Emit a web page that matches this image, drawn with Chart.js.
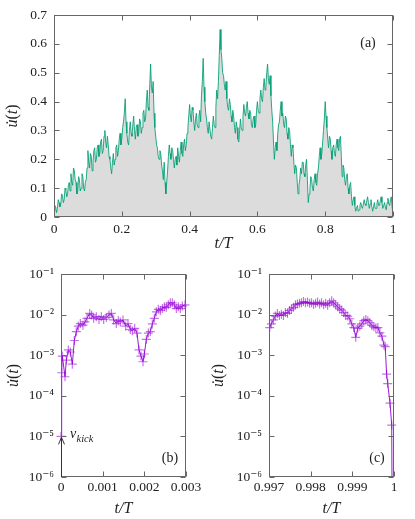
<!DOCTYPE html>
<html lang="en">
<head>
<meta charset="UTF-8">
<title>u(t)</title>
<script src="https://cdn.jsdelivr.net/npm/chart.js"></script>
<style>
  body { margin: 0; background: #fff; }
  canvas { position: absolute; }
</style>
</head>
<body>
<canvas id="chartA" width="415" height="258" style="left:0;top:0"></canvas>
<canvas id="chartB" width="207" height="263" style="left:0;top:256px"></canvas>
<canvas id="chartC" width="208" height="263" style="left:207px;top:256px"></canvas>
<script>
// (a) whole run, sampled every 0.0025 T
const uA = [
  0.02, 0.04, 0.035, 0.015, 0.03, 0.06, 0.05, 0.035, 0.045, 0.08, 0.075, 0.05, 0.06, 0.10, 0.095, 0.07, 0.08, 0.11, 0.12, 0.09,
  0.15, 0.12, 0.11, 0.17, 0.16, 0.13, 0.12, 0.08, 0.09, 0.14, 0.13, 0.09, 0.10, 0.15, 0.14, 0.10, 0.09, 0.12, 0.13, 0.17,
  0.23, 0.19, 0.17, 0.22, 0.21, 0.16, 0.19, 0.23, 0.24, 0.19, 0.20, 0.24, 0.25, 0.21, 0.22, 0.26, 0.27, 0.22, 0.23, 0.28,
  0.30, 0.26, 0.24, 0.28, 0.25, 0.21, 0.20, 0.17, 0.15, 0.19, 0.22, 0.18, 0.20, 0.24, 0.25, 0.21, 0.23, 0.27, 0.29, 0.25,
  0.27, 0.31, 0.33, 0.36, 0.41, 0.33, 0.29, 0.26, 0.25, 0.30, 0.33, 0.29, 0.28, 0.32, 0.35, 0.30, 0.27, 0.31, 0.32, 0.28,
  0.29, 0.34, 0.33, 0.29, 0.31, 0.36, 0.37, 0.33, 0.34, 0.40, 0.44, 0.38, 0.37, 0.46, 0.53, 0.45, 0.43, 0.47, 0.36, 0.31,
  0.28, 0.25, 0.24, 0.21, 0.20, 0.23, 0.22, 0.18, 0.16, 0.13, 0.19, 0.12, 0.08, 0.12, 0.16, 0.21, 0.25, 0.22, 0.20, 0.24,
  0.23, 0.20, 0.17, 0.20, 0.21, 0.18, 0.24, 0.21, 0.19, 0.23, 0.26, 0.22, 0.21, 0.25, 0.27, 0.23, 0.25, 0.29, 0.31, 0.35,
  0.39, 0.35, 0.33, 0.38, 0.37, 0.33, 0.30, 0.34, 0.36, 0.32, 0.31, 0.35, 0.37, 0.33, 0.42, 0.47, 0.55, 0.45, 0.40, 0.36,
  0.34, 0.31, 0.29, 0.33, 0.33, 0.28, 0.27, 0.31, 0.35, 0.32, 0.31, 0.38, 0.44, 0.41, 0.47, 0.56, 0.65, 0.58, 0.55, 0.50,
  0.49, 0.46, 0.44, 0.47, 0.41, 0.38, 0.37, 0.41, 0.39, 0.35, 0.33, 0.37, 0.35, 0.31, 0.29, 0.33, 0.31, 0.27, 0.26, 0.30,
  0.34, 0.31, 0.30, 0.35, 0.39, 0.36, 0.35, 0.38, 0.40, 0.36, 0.34, 0.37, 0.36, 0.32, 0.31, 0.34, 0.35, 0.31, 0.32, 0.37,
  0.40, 0.37, 0.36, 0.41, 0.44, 0.41, 0.40, 0.45, 0.48, 0.44, 0.45, 0.50, 0.53, 0.48, 0.46, 0.49, 0.42, 0.37, 0.33, 0.26,
  0.20, 0.24, 0.26, 0.23, 0.29, 0.32, 0.33, 0.37, 0.40, 0.35, 0.36, 0.32, 0.31, 0.35, 0.34, 0.29, 0.27, 0.31, 0.30, 0.25,
  0.21, 0.25, 0.24, 0.19, 0.15, 0.18, 0.17, 0.12, 0.08, 0.11, 0.13, 0.17, 0.15, 0.19, 0.19, 0.15, 0.14, 0.18, 0.20, 0.13,
  0.05, 0.08, 0.10, 0.14, 0.13, 0.10, 0.09, 0.13, 0.15, 0.12, 0.11, 0.15, 0.17, 0.21, 0.24, 0.20, 0.22, 0.26, 0.30, 0.34,
  0.40, 0.35, 0.31, 0.27, 0.24, 0.28, 0.27, 0.23, 0.20, 0.24, 0.25, 0.22, 0.21, 0.25, 0.27, 0.24, 0.23, 0.27, 0.28, 0.21,
  0.14, 0.18, 0.17, 0.13, 0.11, 0.14, 0.15, 0.10, 0.08, 0.11, 0.12, 0.07, 0.04, 0.06, 0.07, 0.04, 0.02, 0.03, 0.04, 0.02,
  0.025, 0.04, 0.05, 0.035, 0.03, 0.045, 0.06, 0.045, 0.04, 0.055, 0.07, 0.05, 0.03, 0.045, 0.06, 0.035, 0.02, 0.035, 0.05, 0.03,
  0.03, 0.045, 0.06, 0.04, 0.04, 0.055, 0.07, 0.05, 0.03, 0.04, 0.05, 0.035, 0.025, 0.05, 0.065, 0.045, 0.04, 0.06, 0.07, 0.035,
  0.01
];
const stepA = 0.0025;
const tA = uA.map((_, i) => i * stepA);

// (b) start of the run
const tB = [0, 0.000016, 0.000032, 0.000096, 0.000128, 0.000176, 0.000224, 0.000272, 0.00032, 0.000368,
  0.000416, 0.000464, 0.000528, 0.000576, 0.000624, 0.000688, 0.000736, 0.000784, 0.000848, 0.000912,
  0.000968, 0.001024, 0.001088, 0.001152, 0.001208, 0.001264, 0.001328, 0.001376, 0.001424, 0.001488,
  0.001552, 0.001608, 0.001664, 0.001712, 0.001768, 0.001824, 0.001872, 0.00192, 0.001968, 0.002,
  0.002048, 0.002096, 0.002144, 0.002192, 0.00224, 0.002288, 0.002336, 0.002384, 0.002432, 0.00248,
  0.002528, 0.002576, 0.002624, 0.002672, 0.00272, 0.002768, 0.002816, 0.002864, 0.002912, 0.002976];
const uB = [1e-5, 3.7e-4, 9.5e-4, 2.95e-4, 7.6e-4, 1.35e-3, 1.2e-3, 6.0e-4, 2.3e-3, 3.8e-3,
  5.2e-3, 6.0e-3, 5.5e-3, 6.6e-3, 8.1e-3, 1.07e-2, 9.8e-3, 8.1e-3, 8.9e-3, 7.6e-3,
  8.9e-3, 7.6e-3, 8.5e-3, 9.8e-3, 1.07e-2, 7.4e-3, 6.0e-3, 7.1e-3, 6.6e-3, 7.4e-3,
  5.2e-3, 6.0e-3, 4.3e-3, 4.0e-3, 4.6e-3, 3.5e-3, 1.35e-3, 9.5e-4, 6.9e-4, 1.07e-3,
  2.45e-3, 3.5e-3, 3.8e-3, 5.9e-3, 8.1e-3, 1.17e-2, 1.35e-2, 1.26e-2, 1.41e-2, 1.55e-2,
  1.51e-2, 1.74e-2, 1.95e-2, 1.95e-2, 1.74e-2, 1.41e-2, 1.55e-2, 1.41e-2, 1.62e-2, 1.74e-2];

// (c) end of the run
const tC = [0.997016, 0.997056, 0.997105, 0.997153, 0.997201, 0.997249, 0.997297, 0.997346, 0.997394, 0.997442,
  0.99749, 0.997539, 0.997587, 0.997635, 0.997683, 0.997732, 0.99778, 0.997828, 0.997876, 0.997925,
  0.997973, 0.998021, 0.998069, 0.998118, 0.998166, 0.998214, 0.998262, 0.998311, 0.998359, 0.998407,
  0.998455, 0.998504, 0.998552, 0.9986, 0.998648, 0.998697, 0.998745, 0.998793, 0.998841, 0.99889,
  0.998938, 0.998986, 0.999034, 0.999082, 0.999131, 0.999179, 0.999227, 0.999275, 0.999324, 0.999372,
  0.99942, 0.999468, 0.999517, 0.999565, 0.999613, 0.999661, 0.99971, 0.999758, 0.99979, 0.999822,
  0.999849, 0.999904, 0.999945, 0.99996];
const uC = [4.8e-3, 5.9e-3, 7.4e-3, 9.2e-3, 1.07e-2, 9.5e-3, 1.02e-2, 9.5e-3, 1.12e-2, 1.07e-2,
  1.26e-2, 1.38e-2, 1.51e-2, 1.74e-2, 1.82e-2, 1.9e-2, 1.95e-2, 2.09e-2, 1.95e-2, 2.04e-2,
  1.9e-2, 1.95e-2, 1.78e-2, 1.9e-2, 2.04e-2, 1.82e-2, 1.95e-2, 1.74e-2, 1.9e-2, 1.7e-2,
  1.95e-2, 2.19e-2, 1.95e-2, 1.74e-2, 1.55e-2, 1.38e-2, 1.29e-2, 1.12e-2, 9.5e-3, 9.2e-3,
  7.9e-3, 5.9e-3, 4.8e-3, 2.75e-3, 4.6e-3, 5.2e-3, 5.9e-3, 7.1e-3, 7.6e-3, 7.1e-3,
  6.3e-3, 5.4e-3, 5.0e-3, 4.7e-3, 4.8e-3, 3.55e-3, 2.95e-3, 1.78e-3, 1.62e-3, 3.4e-4,
  2.0e-4, 6.6e-5, 1.9e-5, 1e-8];

// ticks
const xTicksA = [0, 0.2, 0.4, 0.6, 0.8, 1];
const xLabelsA = ['0', '0.2', '0.4', '0.6', '0.8', '1'];
const yTicksA = [0, 0.1, 0.2, 0.3, 0.4, 0.5, 0.6, 0.7];
const yLabelsA = ['0', '0.1', '0.2', '0.3', '0.4', '0.5', '0.6', '0.7'];
const xTicksB = [0, 0.001, 0.002, 0.003];
const xLabelsB = ['0', '0.001', '0.002', '0.003'];
const xTicksC = [0.997, 0.998, 0.999, 1];
const xLabelsC = ['0.997', '0.998', '0.999', '1'];
const yTicksLog = [1e-6, 1e-5, 1e-4, 1e-3, 1e-2, 1e-1];
const yLabelsLog = ['10⁻⁶', '10⁻⁵', '10⁻⁴', '10⁻³', '10⁻²', '10⁻¹'];

const serif = "'Liberation Serif', 'DejaVu Serif', serif";
Chart.defaults.font.family = serif;
Chart.defaults.font.size = 13.5;
Chart.defaults.color = '#222';

const frameColor = '#666';
const green = 'rgba(0,158,115,0.85)';
const purple = 'rgba(148,0,211,0.9)';
const purpleLight = 'rgba(148,0,211,0.55)';

// u-dot(t), rotated, drawn piece by piece so the dot sits on the u
function yTitle(ctx, cx, cy) {
  const it = 'italic 16px ' + serif, rm = '16px ' + serif;
  const parts = [['u', it], ['(', rm], ['t', it], [')', rm]];
  ctx.save();
  ctx.translate(cx, cy);
  ctx.rotate(-Math.PI / 2);
  ctx.fillStyle = '#222';
  ctx.textBaseline = 'middle';
  let w = 0;
  parts.forEach(p => { ctx.font = p[1]; w += ctx.measureText(p[0]).width; });
  let x = -w / 2;
  parts.forEach(p => {
    ctx.font = p[1];
    ctx.textAlign = 'left';
    const pw = ctx.measureText(p[0]).width;
    ctx.fillText(p[0], x, 0);
    if (p[0] === 'u') {
      ctx.font = rm;
      ctx.textAlign = 'center';
      ctx.fillText('\u02D9', x + pw / 2 + 1, 0);
    }
    x += pw;
  });
  ctx.restore();
}

// box, inward ticks on all four sides, panel letter, y title
const frame = {
  id: 'frame',
  afterDraw(chart, args, opts) {
    const {ctx, chartArea: a, scales} = chart;
    const L = Math.round(a.left) + 0.5, R = Math.round(a.right) - 0.5;
    const T = Math.round(a.top) + 0.5, B = Math.round(a.bottom) - 0.5;
    ctx.save();
    ctx.strokeStyle = frameColor;
    ctx.lineWidth = 1;
    ctx.beginPath();
    scales.x.ticks.forEach(t => {
      const px = Math.round(scales.x.getPixelForValue(t.value)) + 0.5;
      ctx.moveTo(px, B); ctx.lineTo(px, B - 5);
      ctx.moveTo(px, T); ctx.lineTo(px, T + 5);
    });
    scales.y.ticks.forEach(t => {
      const py = Math.round(scales.y.getPixelForValue(t.value)) + 0.5;
      ctx.moveTo(L, py); ctx.lineTo(L + 5, py);
      ctx.moveTo(R, py); ctx.lineTo(R - 5, py);
    });
    ctx.stroke();
    ctx.strokeRect(L, T, R - L, B - T);
    ctx.fillStyle = '#222';
    ctx.font = '14px ' + serif;
    ctx.textAlign = 'center';
    ctx.textBaseline = 'middle';
    const ly = opts.top ? a.top + opts.dy : a.bottom - opts.dy;
    ctx.fillText(opts.label, a.right - opts.dx, ly);
    ctx.restore();
    yTitle(ctx, opts.titleX, (a.top + a.bottom) / 2);
  }
};

// initial kick arrow in (b)
const kick = {
  id: 'kick',
  afterDraw(chart) {
    const {ctx, scales: {x, y}} = chart;
    const px = Math.round(x.getPixelForValue(tB[0])) + 0.5;
    const py = y.getPixelForValue(uB[0]);
    ctx.save();
    ctx.strokeStyle = '#333';
    ctx.lineWidth = 1;
    ctx.beginPath();
    ctx.moveTo(px, y.bottom); ctx.lineTo(px, py + 1);
    ctx.moveTo(px - 3, py + 8); ctx.lineTo(px, py + 1); ctx.lineTo(px + 3, py + 8);
    ctx.stroke();
    ctx.fillStyle = '#222';
    ctx.textBaseline = 'alphabetic';
    ctx.font = 'italic 14px ' + serif;
    ctx.fillText('v', px + 8.5, py + 2);
    ctx.font = 'italic 10.5px ' + serif;
    ctx.fillText('kick', px + 15, py + 5.5);
    ctx.restore();
  }
};

function xScale(min, max, vals, labs, h, tickPad, titlePad) {
  return {
    type: 'linear', min: min, max: max,
    afterFit: s => { s.height = h; },
    afterBuildTicks: s => { s.ticks = vals.map(v => ({value: v})); },
    ticks: {callback: (v, i) => labs[i], padding: tickPad, autoSkip: false, maxRotation: 0},
    grid: {display: false, drawTicks: false},
    border: {display: false},
    title: {display: true, text: 't/T', font: {style: 'italic', size: 16}, padding: {top: 0, bottom: titlePad}}
  };
}

function yScale(type, min, max, vals, labs, w) {
  return {
    type: type, min: min, max: max,
    afterFit: s => { s.width = w; },
    afterBuildTicks: s => { s.ticks = vals.map(v => ({value: v})); },
    ticks: {callback: (v, i) => labs[i], padding: 7, autoSkip: false},
    grid: {display: false, drawTicks: false},
    border: {display: false}
  };
}

new Chart(document.getElementById('chartA'), {
  type: 'scatter',
  data: {
    datasets: [{
      data: tA.map((t, i) => ({x: t, y: uA[i]})),
      showLine: true,
      borderColor: green,
      borderWidth: 1,
      backgroundColor: '#dcdcdc',
      fill: 'origin',
      pointRadius: 0
    }]
  },
  options: {
    responsive: false,
    animation: false,
    layout: {padding: {top: 15, right: 22, left: 0, bottom: 0}},
    plugins: {
      legend: {display: false},
      tooltip: {enabled: false},
      frame: {label: '(a)', dx: 25, dy: 28.5, top: true, titleX: 13}
    },
    scales: {
      x: xScale(0, 1, xTicksA, xLabelsA, 41, 4, 5),
      y: yScale('linear', 0, 0.7, yTicksA, yLabelsA, 54)
    }
  },
  plugins: [frame]
});

function logPanel(id, t, u, xmin, xmax, xt, xl, yw, titleX, label, dx, extra) {
  return new Chart(document.getElementById(id), {
    type: 'scatter',
    data: {
      datasets: [{
        data: t.map((v, i) => ({x: v, y: u[i]})),
        showLine: true,
        borderColor: purple,
        borderWidth: 1,
        pointStyle: 'cross',
        pointRadius: 4.5,
        pointBorderWidth: 1.2,
        pointBorderColor: purpleLight,
        clip: {left: 8, right: 8, top: 8, bottom: 0}
      }]
    },
    options: {
      responsive: false,
      animation: false,
      layout: {padding: {top: 18, right: 21, left: 0, bottom: 0}},
      plugins: {
        legend: {display: false},
        tooltip: {enabled: false},
        frame: {label: label, dx: dx, dy: 19, top: false, titleX: titleX}
      },
      scales: {
        x: xScale(xmin, xmax, xt, xl, 42, 2, 1),
        y: yScale('logarithmic', 1e-6, 1e-1, yTicksLog, yLabelsLog, yw)
      }
    },
    plugins: extra
  });
}

logPanel('chartB', tB, uB, 0, 0.003, xTicksB, xLabelsB, 61, 14, '(b)', 16, [frame, kick]);
logPanel('chartC', tC, uC, 0.997, 1, xTicksC, xLabelsC, 62, 12, '(c)', 17, [frame]);
</script>
</body>
</html>
